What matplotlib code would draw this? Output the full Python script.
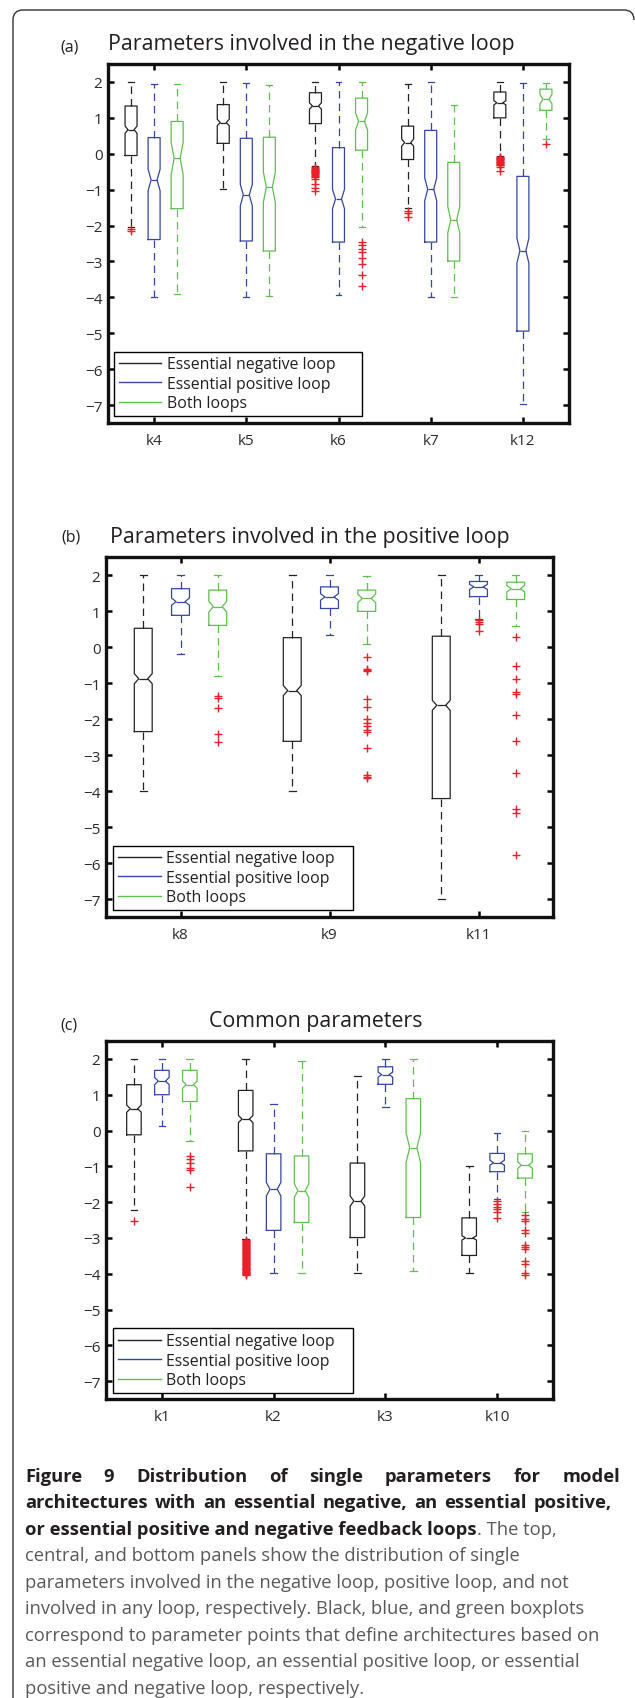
import matplotlib
matplotlib.use('Agg')
import matplotlib.pyplot as plt
from matplotlib.lines import Line2D
from matplotlib.path import Path
from matplotlib.patches import PathPatch
from matplotlib.transforms import IdentityTransform
import numpy as np

plt.rcParams['font.family'] = ['Open Sans', 'DejaVu Sans']

# ---------------- data ----------------
SERIES = ['Essential negative loop', 'Essential positive loop', 'Both loops']

# each tuple: (whisker low, q1, median, q3, whisker high, notch half-width)
a_labels = ['k4', 'k5', 'k6', 'k7', 'k12']
a_neg = [(-2.05, -0.05, 0.67, 1.33, 2.00, 0.10),
         (-0.97, 0.29, 0.87, 1.37, 2.00, 0.09),
         (-0.34, 0.84, 1.33, 1.70, 2.00, 0.09),
         (-1.52, -0.16, 0.31, 0.77, 1.94, 0.10),
         (-0.06, 1.00, 1.42, 1.72, 2.00, 0.06)]
a_pos = [(-4.00, -2.39, -0.73, 0.45, 1.94, 0.30),
         (-4.00, -2.43, -1.15, 0.43, 1.98, 0.30),
         (-3.93, -2.46, -1.26, 0.17, 2.00, 0.27),
         (-4.00, -2.46, -0.99, 0.65, 2.00, 0.32),
         (-6.98, -4.94, -2.70, -0.63, 1.96, 0.35)]
a_both = [(-3.91, -1.53, -0.13, 0.90, 1.94, 0.45),
          (-3.96, -2.71, -0.93, 0.46, 1.91, 0.42),
          (-2.03, 0.10, 0.90, 1.55, 2.00, 0.24),
          (-3.98, -2.99, -1.84, -0.24, 1.35, 0.37),
          (0.40, 1.21, 1.52, 1.80, 1.98, 0.13)]
a_neg_fliers = [[-2.10, -2.15], [],
                [-0.38, -0.40, -0.42, -0.44, -0.46, -0.48, -0.50, -0.52, -0.54, -0.56,
                 -0.58, -0.62, -0.66, -0.69, -0.85, -0.95, -1.03],
                [-1.59, -1.65, -1.75],
                [-0.08, -0.10, -0.12, -0.14, -0.16, -0.18, -0.20, -0.22, -0.24, -0.26,
                 -0.28, -0.30, -0.32, -0.38, -0.48]]
a_pos_fliers = [[], [], [], [], []]
a_both_fliers = [[], [], [-2.45, -2.54, -2.64, -2.75, -2.89, -3.07, -3.38, -3.68], [], [0.27]]

b_labels = ['k8', 'k9', 'k11']
b_neg = [(-3.99, -2.35, -0.88, 0.52, 2.00, 0.14),
         (-3.99, -2.62, -1.21, 0.26, 2.00, 0.14),
         (-7.00, -4.21, -1.62, 0.30, 2.00, 0.14)]
b_pos = [(-0.19, 0.88, 1.26, 1.62, 2.00, 0.10),
         (0.34, 1.07, 1.39, 1.67, 2.00, 0.09),
         (0.79, 1.40, 1.67, 1.82, 2.00, 0.07)]
b_both = [(-0.80, 0.60, 1.12, 1.58, 2.00, 0.15),
          (0.09, 0.99, 1.35, 1.58, 1.98, 0.12),
          (0.59, 1.32, 1.62, 1.80, 2.00, 0.09)]
b_neg_fliers = [[], [], []]
b_pos_fliers = [[], [], [0.75, 0.70, 0.65, 0.44]]
b_both_fliers = [[-1.35, -1.42, -1.70, -2.41, -2.65],
                 [-0.27, -0.60, -0.63, -0.66, -1.44, -1.67, -2.00, -2.10, -2.20, -2.30,
                  -2.35, -2.81, -3.55, -3.60, -3.65],
                 [0.28, -0.53, -0.88, -1.25, -1.30, -1.88, -2.62, -3.51, -4.50, -4.60, -5.78]]

c_labels = ['k1', 'k2', 'k3', 'k10']
c_neg = [(-2.23, -0.12, 0.61, 1.28, 2.00, 0.10),
         (-3.04, -0.57, 0.32, 1.12, 2.00, 0.10),
         (-3.99, -2.99, -1.97, -0.91, 1.51, 0.14),
         (-3.99, -3.49, -3.00, -2.44, -0.99, 0.06)]
c_pos = [(0.12, 1.00, 1.38, 1.68, 2.00, 0.10),
         (-3.99, -2.79, -1.64, -0.65, 0.75, 0.19),
         (0.66, 1.29, 1.56, 1.78, 2.00, 0.07),
         (-1.92, -1.15, -0.90, -0.64, -0.07, 0.07)]
c_both = [(-0.28, 0.81, 1.28, 1.68, 2.00, 0.10),
          (-3.99, -2.57, -1.68, -0.71, 1.93, 0.19),
          (-3.92, -2.43, -0.48, 0.89, 2.00, 0.42),
          (-2.29, -1.33, -0.97, -0.65, -0.02, 0.09)]
c_neg_fliers = [[-2.54],
                [-3.06, -3.08, -3.10, -3.12, -3.14, -3.16, -3.18, -3.20, -3.22, -3.24,
                 -3.26, -3.28, -3.30, -3.32, -3.34, -3.36, -3.38, -3.40, -3.42, -3.44,
                 -3.46, -3.48, -3.50, -3.52, -3.54, -3.56, -3.58, -3.60, -3.62, -3.64,
                 -3.66, -3.68, -3.70, -3.72, -3.74, -3.76, -3.78, -3.80, -3.82, -3.84,
                 -3.86, -3.88, -3.90, -3.92, -3.94, -3.96, -3.98, -4.00, -4.02, -4.05],
                [], []]
c_pos_fliers = [[], [], [], [-1.97, -2.06, -2.13, -2.20, -2.29, -2.45]]
c_both_fliers = [[-0.71, -0.81, -0.90, -1.04, -1.09, -1.57], [], [],
                 [-2.37, -2.46, -2.53, -2.78, -2.85, -3.19, -3.25, -3.32, -3.64, -3.73,
                  -3.99, -4.04]]

y_ticks = [-7, -6, -5, -4, -3, -2, -1, 0, 1, 2]

# ---------------- style ----------------
W, H = 635, 1699
COLORS = ['#232323', '#34469f', '#5fbf4e']
FLIER = '#e8202a'
TXT = '#231f20'

fig = plt.figure(figsize=(W / 100, H / 100), dpi=100)


def rect(l, r, t, b):
    return [l / W, 1 - b / H, (r - l) / W, (b - t) / H]


def panel(box, labels, groups, fliers, width, capw, leg_box):
    ax = fig.add_axes(box)
    n = len(labels)
    offs = [-0.25, 0.0, 0.25]
    for s in range(3):
        stats = []
        for (lo, q1, med, q3, hi, nh), fl in zip(groups[s], fliers[s]):
            stats.append(dict(whislo=lo, q1=q1, med=med, q3=q3, whishi=hi,
                              cilo=med - nh, cihi=med + nh, fliers=np.array(fl, dtype=float)))
        c = COLORS[s]
        pos = np.arange(1, n + 1) + offs[s]
        ax.bxp(stats, positions=pos, widths=width, capwidths=capw, shownotches=True,
               showfliers=True, manage_ticks=False,
               boxprops=dict(color=c, lw=0.9),
               medianprops=dict(color=c, lw=0.9),
               whiskerprops=dict(color=c, lw=0.9, linestyle=(0, (6, 4))),
               capprops=dict(color=c, lw=0.9),
               flierprops=dict(marker='+', markeredgecolor=FLIER, markersize=6,
                               markeredgewidth=1.0, linestyle='none'))
    ax.set_xlim(0.5, n + 0.5)
    ax.set_ylim(-7.5, 2.5)
    ax.set_yticks(y_ticks)
    ax.set_xticks(np.arange(1, n + 1))
    ax.set_xticklabels(labels)
    ax.tick_params(direction='in', length=4, width=1.8, top=True, right=True,
                   labelsize=11, colors='black', labelcolor='#2b2b2b')
    ax.tick_params(axis='y', pad=4)
    ax.tick_params(axis='x', pad=7)
    for sp in ax.spines.values():
        sp.set_linewidth(2.4)
        sp.set_color('#111111')
    handles = [Line2D([], [], color=COLORS[i], lw=1.0) for i in range(3)]
    leg = ax.legend(handles, SERIES, loc='lower left', bbox_to_anchor=leg_box,
                    mode='expand', borderaxespad=0, frameon=True, fancybox=False,
                    fontsize=11.4, handlelength=2.7, handletextpad=0.35,
                    labelspacing=0.22, borderpad=0.3)
    fr = leg.get_frame()
    fr.set_edgecolor('black')
    fr.set_linewidth(1.0)
    fr.set_alpha(1)
    for t in leg.get_texts():
        t.set_color('#231f20')
    return ax


panel(rect(108, 569, 65, 424), a_labels, [a_neg, a_pos, a_both],
      [a_neg_fliers, a_pos_fliers, a_both_fliers], 0.13, 0.065, (0.013, 0.0195, 0.538, 0.0))
panel(rect(106, 553, 558, 918), b_labels, [b_neg, b_pos, b_both],
      [b_neg_fliers, b_pos_fliers, b_both_fliers], 0.12, 0.05, (0.0157, 0.0194, 0.537, 0.0))
panel(rect(106, 553, 1042, 1400), c_labels, [c_neg, c_pos, c_both],
      [c_neg_fliers, c_pos_fliers, c_both_fliers], 0.13, 0.06, (0.0157, 0.017, 0.537, 0.0))

# titles and panel letters
fig.text(311 / W, 1 - 50 / H, 'Parameters involved in the negative loop', ha='center',
         va='baseline', fontsize=15.4, color=TXT)
fig.text(310 / W, 1 - 543 / H, 'Parameters involved in the positive loop', ha='center',
         va='baseline', fontsize=15.4, color=TXT)
fig.text(316 / W, 1 - 1027 / H, 'Common parameters', ha='center', va='baseline',
         fontsize=15.4, color=TXT)
fig.text(70 / W, 1 - 48 / H, '(a)', ha='center', va='center', fontsize=11.5, color=TXT)
fig.text(71 / W, 1 - 538 / H, '(b)', ha='center', va='center', fontsize=11.5, color=TXT)
fig.text(69 / W, 1 - 1025 / H, '(c)', ha='center', va='center', fontsize=11.5, color=TXT)

# frame
verts = [(13, 0), (13, H - 21), (13, H - 11), (23, H - 11), (624, H - 11), (634, H - 11), (634, H - 21)]
codes = [Path.MOVETO, Path.LINETO, Path.CURVE3, Path.CURVE3, Path.LINETO, Path.CURVE3, Path.CURVE3]
fig.patches.append(PathPatch(Path(verts, codes), transform=IdentityTransform(), fill=False,
                             edgecolor='#333333', lw=1.0))

# caption
renderer = fig.canvas.get_renderer()
CAP_FS = 13.2
BOLD = dict(fontsize=CAP_FS, fontweight='bold', color=TXT)
NORM = dict(fontsize=CAP_FS, color='#58595b')


def twidth(s, kw):
    t = fig.text(0, 0, s, **kw)
    w = t.get_window_extent(renderer).width
    t.remove()
    return w


def justified(line, y, x0, x1, kw):
    words = line.split(' ')
    ws = [twidth(w, kw) for w in words]
    gap = (x1 - x0 - sum(ws)) / (len(words) - 1)
    x = x0
    for w, wd in zip(words, ws):
        fig.text(x / W, 1 - y / H, w, ha='left', va='baseline', **kw)
        x += wd + gap


base = 1482
step = 26.5
justified('Figure 9 Distribution of single parameters for model', base, 25, 620, BOLD)
justified('architectures with an essential negative, an essential positive,', base + step, 25, 612, BOLD)
p1 = 'or essential positive and negative feedback loops'
fig.text(25 / W, 1 - (base + 2 * step) / H, p1, ha='left', va='baseline', **BOLD)
fig.text((25 + twidth(p1, BOLD)) / W, 1 - (base + 2 * step) / H, '. The top,', ha='left',
         va='baseline', **NORM)
rest = ['central, and bottom panels show the distribution of single',
        'parameters involved in the negative loop, positive loop, and not',
        'involved in any loop, respectively. Black, blue, and green boxplots',
        'correspond to parameter points that define architectures based on',
        'an essential negative loop, an essential positive loop, or essential',
        'positive and negative loop, respectively.']
for i, line in enumerate(rest):
    fig.text(25 / W, 1 - (base + (3 + i) * step) / H, line, ha='left', va='baseline', **NORM)

fig.savefig('out.png', dpi=100, facecolor='white')
